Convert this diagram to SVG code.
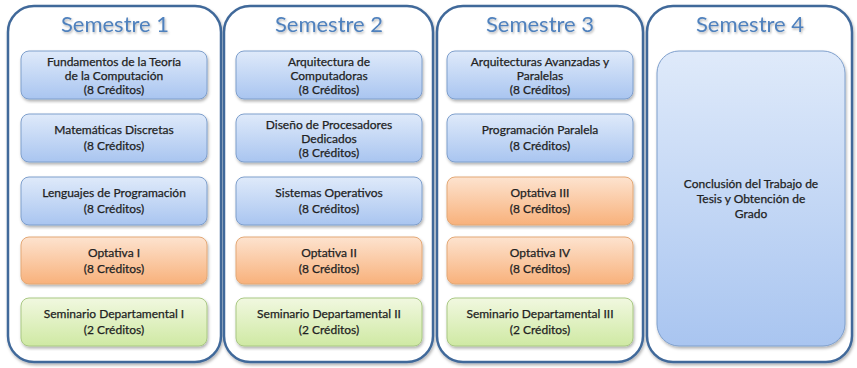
<svg xmlns="http://www.w3.org/2000/svg" width="857" height="368" viewBox="0 0 857 368">
<defs>
<linearGradient id="gb" x1="0" y1="0" x2="0" y2="1"><stop offset="0" stop-color="#dfeafa"/><stop offset="1" stop-color="#a9c5f0"/></linearGradient>
<linearGradient id="go" x1="0" y1="0" x2="0" y2="1"><stop offset="0" stop-color="#fde3cf"/><stop offset="1" stop-color="#f8b17b"/></linearGradient>
<linearGradient id="gg" x1="0" y1="0" x2="0" y2="1"><stop offset="0" stop-color="#f1f8e0"/><stop offset="1" stop-color="#cfe9a3"/></linearGradient>
<filter id="sh" x="-10%" y="-10%" width="120%" height="120%"><feDropShadow dx="1" dy="2" stdDeviation="1.5" flood-color="#000" flood-opacity="0.3"/></filter>
<filter id="ts" x="-10%" y="-20%" width="120%" height="150%"><feDropShadow dx="1" dy="1.5" stdDeviation="1" flood-color="#000" flood-opacity="0.3"/></filter>
</defs>
<style>
.col{fill:#fff;stroke:#41699a;stroke-width:2.5;filter:url(#sh)}
.t{font-family:Lato,"Open Sans",sans-serif;font-size:22px;fill:#4f81bd;text-anchor:middle;filter:url(#ts)}
.b{stroke:#7e9fcc;stroke-width:1;fill:url(#gb);filter:url(#sh)}
.o{stroke:#e3a876;stroke-width:1;fill:url(#go);filter:url(#sh)}
.g{stroke:#a9c883;stroke-width:1;fill:url(#gg);filter:url(#sh)}
.l{font-family:Lato,"Open Sans",sans-serif;font-size:12px;fill:#222;stroke:#222;stroke-width:0.25;text-anchor:middle}
</style>
<g id="semestre1">
<rect class="col" x="8" y="6" width="213" height="356" rx="26"/>
<text class="t" x="115" y="32">Semestre 1</text>
<g id="s1c1"><rect class="b" x="21" y="51" width="186" height="48" rx="8"/><text class="l" x="114" y="66">Fundamentos de la Teoría</text><text class="l" x="114" y="80">de la Computación</text><text class="l" x="114" y="94">(8 Créditos)</text></g>
<g id="s1c2"><rect class="b" x="21" y="114" width="186" height="48" rx="8"/><text class="l" x="114" y="134">Matemáticas Discretas</text><text class="l" x="114" y="150">(8 Créditos)</text></g>
<g id="s1c3"><rect class="b" x="21" y="177" width="186" height="48" rx="8"/><text class="l" x="114" y="197">Lenguajes de Programación</text><text class="l" x="114" y="213">(8 Créditos)</text></g>
<g id="s1c4"><rect class="o" x="21" y="237" width="186" height="47" rx="8"/><text class="l" x="114" y="257">Optativa I</text><text class="l" x="114" y="273">(8 Créditos)</text></g>
<g id="s1c5"><rect class="g" x="21" y="298" width="186" height="48" rx="8"/><text class="l" x="114" y="318">Seminario Departamental I</text><text class="l" x="114" y="334">(2 Créditos)</text></g>
</g>
<g id="semestre2">
<rect class="col" x="224" y="6" width="209" height="356" rx="26"/>
<text class="t" x="329" y="32">Semestre 2</text>
<g id="s2c1"><rect class="b" x="236" y="51" width="186" height="48" rx="8"/><text class="l" x="329" y="66">Arquitectura de</text><text class="l" x="329" y="80">Computadoras</text><text class="l" x="329" y="94">(8 Créditos)</text></g>
<g id="s2c2"><rect class="b" x="236" y="114" width="186" height="48" rx="8"/><text class="l" x="329" y="129">Diseño de Procesadores</text><text class="l" x="329" y="143">Dedicados</text><text class="l" x="329" y="157">(8 Créditos)</text></g>
<g id="s2c3"><rect class="b" x="236" y="177" width="186" height="48" rx="8"/><text class="l" x="329" y="197">Sistemas Operativos</text><text class="l" x="329" y="213">(8 Créditos)</text></g>
<g id="s2c4"><rect class="o" x="236" y="237" width="186" height="47" rx="8"/><text class="l" x="329" y="257">Optativa II</text><text class="l" x="329" y="273">(8 Créditos)</text></g>
<g id="s2c5"><rect class="g" x="236" y="298" width="186" height="48" rx="8"/><text class="l" x="329" y="318">Seminario Departamental II</text><text class="l" x="329" y="334">(2 Créditos)</text></g>
</g>
<g id="semestre3">
<rect class="col" x="437" y="6" width="206" height="356" rx="26"/>
<text class="t" x="540" y="32">Semestre 3</text>
<g id="s3c1"><rect class="b" x="447" y="51" width="186" height="48" rx="8"/><text class="l" x="540" y="66">Arquitecturas Avanzadas y</text><text class="l" x="540" y="80">Paralelas</text><text class="l" x="540" y="94">(8 Créditos)</text></g>
<g id="s3c2"><rect class="b" x="447" y="114" width="186" height="48" rx="8"/><text class="l" x="540" y="134">Programación Paralela</text><text class="l" x="540" y="150">(8 Créditos)</text></g>
<g id="s3c3"><rect class="o" x="447" y="177" width="186" height="48" rx="8"/><text class="l" x="540" y="197">Optativa III</text><text class="l" x="540" y="213">(8 Créditos)</text></g>
<g id="s3c4"><rect class="o" x="447" y="237" width="186" height="47" rx="8"/><text class="l" x="540" y="257">Optativa IV</text><text class="l" x="540" y="273">(8 Créditos)</text></g>
<g id="s3c5"><rect class="g" x="447" y="298" width="186" height="48" rx="8"/><text class="l" x="540" y="318">Seminario Departamental III</text><text class="l" x="540" y="334">(2 Créditos)</text></g>
</g>
<g id="semestre4">
<rect class="col" x="647" y="6" width="205" height="356" rx="26"/>
<text class="t" x="750" y="32">Semestre 4</text>
<g id="s4c1"><rect class="b" x="657" y="51" width="188" height="295" rx="22"/><text class="l" x="751" y="188">Conclusión del Trabajo de</text><text class="l" x="751" y="203">Tesis y Obtención de</text><text class="l" x="751" y="218">Grado</text></g>
</g>
<g id="connectors"/>
</svg>
